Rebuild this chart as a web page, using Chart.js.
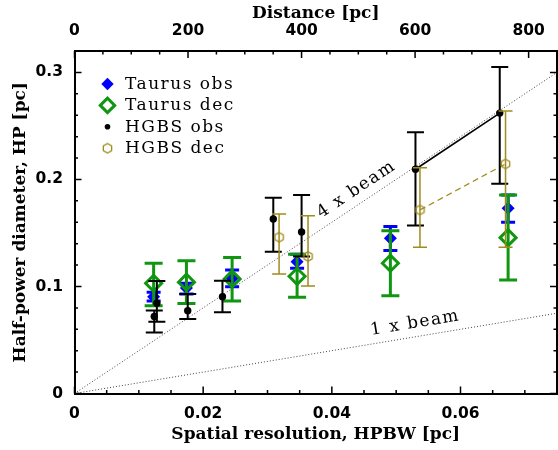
<!DOCTYPE html>
<html>
<head>
<meta charset="utf-8">
<script src="https://cdn.jsdelivr.net/npm/chart.js@4.4.1/dist/chart.umd.min.js"></script>
<style>
  html, body { margin: 0; padding: 0; background: #fff; }
  canvas { display: block; }
</style>
</head>
<body>
<canvas id="grafico" width="558" height="450"></canvas>
<script>
// values: spatial resolution (pc) vs half-power diameter (pc)
const taurusX = [0.0123, 0.0174, 0.0245, 0.0346, 0.0491, 0.0674];
const taurusObs = [0.0905, 0.0985, 0.1075, 0.123, 0.145, 0.173];
const taurusObsLow = [0.0864, 0.093, 0.0998, 0.117, 0.1335, 0.160];
const taurusObsHigh = [0.0946, 0.103, 0.1154, 0.130, 0.156, 0.1855];
const taurusDec = [0.103, 0.104, 0.107, 0.1095, 0.1217, 0.1456];
const taurusDecLow = [0.082, 0.084, 0.0864, 0.090, 0.0914, 0.106];
const taurusDecHigh = [0.1217, 0.124, 0.127, 0.130, 0.152, 0.1855];

const hgbsObsX = [0.0124, 0.0128, 0.0176, 0.0230, 0.0309, 0.0353, 0.0530, 0.0661];
const hgbsObs = [0.072, 0.0843, 0.0774, 0.0905, 0.163, 0.151, 0.2095, 0.262];
const hgbsObsLow = [0.057, 0.067, 0.0696, 0.076, 0.1325, 0.128, 0.157, 0.196];
const hgbsObsHigh = [0.0775, 0.105, 0.093, 0.1054, 0.183, 0.1855, 0.244, 0.305];

const hgbsDecX = [0.0318, 0.0363, 0.0537, 0.0670];
const hgbsDec = [0.146, 0.128, 0.1715, 0.2145];
const hgbsDecLow = [0.1117, 0.1005, 0.1366, 0.1366];
const hgbsDecHigh = [0.1678, 0.166, 0.211, 0.264];

// axes
const xRange = [0, 0.075];
const yRange = [0, 0.32];
const distRange = [0, 850];
const xTicks = [0, 0.02, 0.04, 0.06];
const yTicks = [0, 0.1, 0.2, 0.3];
const distTicks = [0, 200, 400, 600, 800];
const xMinor = 0.005, yMinor = 0.02, distMinor = 50;

// beam reference lines
const beamFactors = [1, 4];
const beamLabels = ['1 x beam', '4 x beam'];
const beamLabelX = [0.0533, 0.045];

const legendNames = ['Taurus obs', 'Taurus dec', 'HGBS obs', 'HGBS dec'];

const BLUE = '#0000ff';
const GREEN = 'rgb(16,150,16)';
const OLIVE = 'rgb(160,140,30)';

function toPoints(xs, ys) {
    return xs.map((x, i) => ({x: x, y: ys[i]}));
}

function hexagono(r, color, lw) {
    const c = document.createElement('canvas');
    const s = Math.ceil(2 * r + lw + 2);
    c.width = s;
    c.height = s;
    const g = c.getContext('2d');
    g.strokeStyle = color;
    g.lineWidth = lw;
    g.beginPath();
    for (let k = 0; k < 6; k++) {
        const a = -Math.PI / 2 + k * Math.PI / 3;
        const px = s / 2 + r * Math.cos(a), py = s / 2 + r * Math.sin(a);
        if (k === 0) g.moveTo(px, py); else g.lineTo(px, py);
    }
    g.closePath();
    g.stroke();
    return c;
}
const hexStyle = hexagono(4.8, OLIVE, 1.3);

// error bars drawn just before each dataset's points
const barrasError = {
    id: 'barrasError',
    beforeDatasetDraw(chart, args) {
        const ds = chart.data.datasets[args.index];
        if (!ds.errLow) return;
        const ctx = chart.ctx;
        const xs = chart.scales.x, ys = chart.scales.y;
        ctx.save();
        ctx.strokeStyle = ds.errColor;
        ctx.lineWidth = ds.errWidth;
        ds.data.forEach((p, i) => {
            const px = xs.getPixelForValue(p.x);
            const lo = ys.getPixelForValue(ds.errLow[i]);
            const hi = ys.getPixelForValue(ds.errHigh[i]);
            ctx.beginPath();
            ctx.moveTo(px, lo);
            ctx.lineTo(px, hi);
            ctx.moveTo(px - ds.capHalf, lo);
            ctx.lineTo(px + ds.capHalf, lo);
            ctx.moveTo(px - ds.capHalf, hi);
            ctx.lineTo(px + ds.capHalf, hi);
            ctx.stroke();
        });
        ctx.restore();
    }
};

// inward tick marks on all four sides
function minorValues(range, step, majors) {
    const out = [];
    const n = Math.round((range[1] - range[0]) / step);
    for (let k = 0; k <= n; k++) {
        const v = range[0] + k * step;
        if (!majors.some(m => Math.abs(m - v) < step / 10)) out.push(v);
    }
    return out;
}

const marcas = {
    id: 'marcas',
    afterDraw(chart) {
        const ctx = chart.ctx;
        const a = chart.chartArea;
        const sx = chart.scales.x, st = chart.scales.x2, sy = chart.scales.y;
        const big = 7, small = 3.5;
        ctx.save();
        ctx.strokeStyle = '#000';
        ctx.lineWidth = 1.5;
        ctx.beginPath();
        const vert = (scale, vals, len) => vals.forEach(v => {
            const px = scale.getPixelForValue(v);
            if (scale === sx) { ctx.moveTo(px, a.bottom); ctx.lineTo(px, a.bottom - len); }
            else { ctx.moveTo(px, a.top); ctx.lineTo(px, a.top + len); }
        });
        const horiz = (vals, len) => vals.forEach(v => {
            const py = sy.getPixelForValue(v);
            ctx.moveTo(a.left, py); ctx.lineTo(a.left + len, py);
            ctx.moveTo(a.right, py); ctx.lineTo(a.right - len, py);
        });
        vert(sx, xTicks, big);
        vert(sx, minorValues(xRange, xMinor, xTicks), small);
        vert(st, distTicks, big);
        vert(st, minorValues(distRange, distMinor, distTicks), small);
        horiz(yTicks, big);
        horiz(minorValues(yRange, yMinor, yTicks), small);
        ctx.stroke();
        ctx.restore();
    }
};

// beam labels and the legend box
const rotulos = {
    id: 'rotulos',
    afterDatasetsDraw(chart) {
        const ctx = chart.ctx;
        const a = chart.chartArea;
        const sx = chart.scales.x, sy = chart.scales.y;
        ctx.save();
        ctx.fillStyle = '#000';
        ctx.font = '17px "DejaVu Serif"';
        ctx.letterSpacing = '1.5px';
        ctx.textAlign = 'center';
        ctx.textBaseline = 'middle';
        beamFactors.forEach((f, i) => {
            const x0 = sx.getPixelForValue(0), y0 = sy.getPixelForValue(0);
            const x1 = sx.getPixelForValue(xRange[1]), y1 = sy.getPixelForValue(f * xRange[1]);
            const ang = Math.atan2(y1 - y0, x1 - x0);
            const cx = sx.getPixelForValue(beamLabelX[i]);
            const cy = sy.getPixelForValue(f * beamLabelX[i]);
            const off = 13.5;
            ctx.save();
            ctx.translate(cx + Math.sin(ang) * off, cy - Math.cos(ang) * off);
            ctx.rotate(ang);
            ctx.fillText(beamLabels[i], 0, 0);
            ctx.restore();
        });

        ctx.textAlign = 'left';
        const entries = chart.data.datasets.filter(d => d.legendRadius);
        entries.forEach((d, i) => {
            const yy = a.top + 33 + i * 21.4;
            const xx = a.left + 33;
            ctx.save();
            ctx.fillStyle = d.backgroundColor;
            ctx.strokeStyle = d.borderColor;
            ctx.lineWidth = d.borderWidth;
            Chart.helpers.drawPoint(ctx, {
                pointStyle: d.pointStyle, radius: d.legendRadius,
                borderWidth: d.borderWidth, rotation: 0
            }, xx, yy);
            ctx.restore();
            ctx.fillText(d.label, a.left + 50.5, yy + 0.5);
        });
        ctx.restore();
    }
};

const beamSets = beamFactors.map(f => ({
    label: f + 'x',
    data: xRange.map(x => ({x: x, y: f * x})),
    showLine: true,
    borderColor: '#444',
    borderWidth: 1,
    borderDash: [1, 2],
    pointRadius: 0,
    order: 10
}));

const data = {
    datasets: beamSets.concat([
        {
            label: 'obs link',
            data: toPoints(hgbsObsX.slice(-2), hgbsObs.slice(-2)),
            showLine: true,
            borderColor: '#000',
            borderWidth: 1.6,
            pointRadius: 0,
            order: 6
        },
        {
            label: 'dec link',
            data: toPoints(hgbsDecX.slice(-2), hgbsDec.slice(-2)),
            showLine: true,
            borderColor: OLIVE,
            borderWidth: 1.3,
            borderDash: [6, 4],
            pointRadius: 0,
            order: 6
        },
        {
            label: legendNames[0],
            data: toPoints(taurusX, taurusObs),
            pointStyle: 'rectRot',
            pointRadius: 6.5,
            backgroundColor: BLUE,
            borderColor: BLUE,
            borderWidth: 0,
            errLow: taurusObsLow, errHigh: taurusObsHigh,
            errColor: BLUE, errWidth: 3, capHalf: 7,
            legendRadius: 6.2,
            order: 4
        },
        {
            label: legendNames[1],
            data: toPoints(taurusX, taurusDec),
            pointStyle: 'rectRot',
            pointRadius: 8,
            backgroundColor: 'rgba(0,0,0,0)',
            borderColor: GREEN,
            borderWidth: 3,
            errLow: taurusDecLow, errHigh: taurusDecHigh,
            errColor: GREEN, errWidth: 3, capHalf: 9,
            legendRadius: 7.2,
            order: 3
        },
        {
            label: legendNames[2],
            data: toPoints(hgbsObsX, hgbsObs),
            pointStyle: 'circle',
            pointRadius: 3.7,
            backgroundColor: '#000',
            borderColor: '#000',
            borderWidth: 0,
            errLow: hgbsObsLow, errHigh: hgbsObsHigh,
            errColor: '#000', errWidth: 2, capHalf: 8.5,
            legendRadius: 2.8,
            order: 2
        },
        {
            label: legendNames[3],
            data: toPoints(hgbsDecX, hgbsDec),
            pointStyle: hexStyle,
            pointRadius: 5,
            backgroundColor: 'rgba(0,0,0,0)',
            borderColor: OLIVE,
            borderWidth: 0,
            errLow: hgbsDecLow, errHigh: hgbsDecHigh,
            errColor: OLIVE, errWidth: 1.5, capHalf: 7,
            legendRadius: 5,
            order: 1
        }
    ])
};

const tickFont = {family: '"DejaVu Sans"', size: 15.5, weight: 'bold'};
const titleFont = {family: '"DejaVu Serif"', size: 17, weight: 'bold'};
const sinRejilla = {display: false, drawTicks: false};
const borde = {display: true, color: '#000', width: 2};

// fixed box sizes so the plot area matches the figure; no extra label padding
function fijarAlto(h) {
    return s => { s.height = h; s.paddingLeft = 0; s.paddingRight = 0; };
}
function fijarAncho(w) {
    return s => { s.width = w; s.paddingTop = 0; s.paddingBottom = 0; };
}

const config = {
    type: 'scatter',
    data: data,
    options: {
        responsive: false,
        animation: false,
        events: [],
        layout: {padding: 0, autoPadding: false},
        plugins: {legend: {display: false}, tooltip: {enabled: false}},
        scales: {
            x: {
                type: 'linear', position: 'bottom',
                min: xRange[0], max: xRange[1],
                afterBuildTicks: s => { s.ticks = xTicks.map(v => ({value: v})); },
                afterFit: fijarAlto(56.5),
                grid: sinRejilla, border: borde,
                ticks: {font: tickFont, color: '#000', padding: 11.2, maxRotation: 0, autoSkip: false,
                        callback: v => String(v)},
                title: {display: true, text: 'Spatial resolution, HPBW [pc]', font: titleFont,
                        color: '#000', padding: {top: 0, bottom: 4.8}}
            },
            x2: {
                type: 'linear', position: 'top',
                min: distRange[0], max: distRange[1],
                afterBuildTicks: s => { s.ticks = distTicks.map(v => ({value: v})); },
                afterFit: fijarAlto(51),
                grid: sinRejilla, border: borde,
                ticks: {font: tickFont, color: '#000', padding: 10.7, maxRotation: 0, autoSkip: false,
                        callback: v => String(v)},
                title: {display: true, text: 'Distance [pc]', font: titleFont,
                        color: '#000', padding: {top: 3.5, bottom: 0}}
            },
            y: {
                type: 'linear', position: 'left',
                min: yRange[0], max: yRange[1],
                afterBuildTicks: s => { s.ticks = yTicks.map(v => ({value: v})); },
                afterFit: fijarAncho(74.5),
                grid: sinRejilla, border: borde,
                ticks: {font: tickFont, color: '#000', padding: 11.5, autoSkip: false,
                        callback: v => String(v)},
                title: {display: true, text: 'Half-power diameter, HP [pc]', font: titleFont,
                        color: '#000', padding: {top: 10.8, bottom: 0}}
            },
            y2: {
                type: 'linear', position: 'right',
                min: yRange[0], max: yRange[1],
                afterFit: fijarAncho(1),
                grid: sinRejilla, border: borde,
                ticks: {display: false}
            }
        }
    },
    plugins: [barrasError, rotulos, marcas]
};

const grafico = new Chart(document.getElementById('grafico'), config);
</script>
</body>
</html>
